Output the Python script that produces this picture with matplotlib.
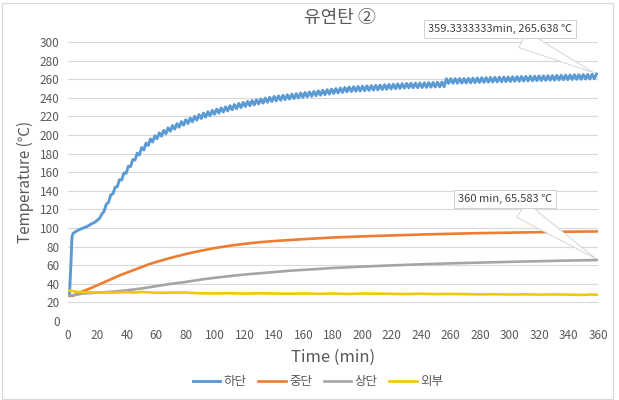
import numpy as np
import matplotlib
matplotlib.use("Agg")
import matplotlib.pyplot as plt
from matplotlib.patches import Rectangle

plt.rcParams['font.family'] = ['Noto Sans CJK KR', 'DejaVu Sans']

title = "유연탄 ②"
series_names = ["하단", "중단", "상단", "외부"]
colors = ["#5B9BD5", "#ED7D31", "#A5A5A5", "#F2C800"]

# 하단 (bottom) – smooth start, then dense zig-zag
bottom_t_start = [0, 1, 2, 2.67, 3.33, 5, 8, 12.7, 16, 18.5]
bottom_v_start = [28, 29, 62, 90, 94, 96, 98.5, 101.4, 104.5, 106.5]
bottom_t_zig = list(np.arange(20, 359.1, 1.5))
bottom_v_zig = [
    108.5, 110.5, 115, 118, 125.5, 127.5, 135.5, 136.8, 143.7, 144.5,
    152, 151.6, 159.2, 158.8, 166.4, 166, 173.6, 173, 180.5, 178.5,
    186.5, 183.9, 191.3, 188.7, 195.7, 192.5, 199.3, 196, 202.3, 198.7,
    205, 201.4, 207.7, 204.1, 210.2, 206.3, 212.3, 208.4, 214.4, 210.5,
    216.5, 212.4, 218.3, 214.2, 220.1, 216, 221.9, 217.75, 223.5, 219.25,
    225, 220.75, 226.5, 222.3, 227.9, 223.5, 229.1, 224.7, 230.3, 225.9,
    231.5, 227.1, 232.7, 228.3, 233.9, 229.5, 235.1, 230.65, 236.1, 231.5,
    237, 232.4, 237.9, 233.35, 238.8, 234.25, 239.7, 235.15, 240.6, 236.05,
    241.5, 236.8, 242.1, 237.4, 242.7, 238, 243.3, 238.6, 243.9, 239.2,
    244.5, 239.8, 245.1, 240.4, 245.7, 241, 246.3, 241.6, 246.9, 242.2,
    247.5, 242.8, 248.1, 243.4, 248.7, 244, 249.3, 244.6, 249.9, 245.2,
    250.5, 245.8, 251.1, 246.4, 251.6, 246.75, 251.9, 247.05, 252.2, 247.35,
    252.5, 247.65, 252.8, 247.95, 253.1, 248.25, 253.4, 248.55, 253.7, 248.85,
    254, 249.15, 254.3, 249.45, 254.6, 249.75, 254.9, 250.05, 255.2, 250.35,
    255.5, 250.6, 255.65, 250.7, 255.8, 250.9, 255.95, 251, 256.1, 251.2,
    256.3, 251.4, 256.5, 251.6, 256.7, 251.8, 256.9, 252, 260.5, 255.55,
    260.6, 255.65, 260.65, 255.7, 260.75, 255.8, 260.8, 255.85, 260.95, 256.05,
    261.15, 256.25, 261.35, 256.45, 261.55, 256.6, 261.7, 256.8, 261.85, 256.9,
    262, 257.1, 262.15, 257.2, 262.3, 257.4, 262.45, 257.5, 262.6, 257.7,
    262.75, 257.8, 262.9, 258, 263.05, 258.1, 263.2, 258.3, 263.35, 258.4,
    263.5, 258.6, 263.65, 258.7, 263.8, 258.9, 263.95, 259, 264.1, 259.2,
    264.25, 259.3, 264.4, 259.5, 264.55, 259.6, 264.7, 259.8, 264.85, 259.9,
    265, 260.1, 265.15, 260.2, 265.3, 260.4, 265.638,
]
bottom_t = bottom_t_start + bottom_t_zig
bottom_v = bottom_v_start + bottom_v_zig

# 중단 (middle)
mid_t = [0, 3, 6, 10, 15, 20, 25, 30, 35, 40, 45, 50, 55, 60, 70, 80, 90, 100,
         110, 120, 130, 140, 150, 160, 180, 200, 220, 240, 260, 280, 300, 320, 340, 360]
mid_v = [27, 27, 29, 32, 35, 38.5, 42, 45.5, 49, 52, 55, 58, 61, 63.5, 68, 72, 75.5, 78.5,
         81, 83, 84.7, 86, 87, 88, 89.8, 91, 92, 93, 93.8, 94.5, 95, 95.5, 96, 96.3]

# 상단 (top)
top_t = [0, 5, 10, 20, 30, 40, 50, 60, 70, 80, 90, 100, 110, 120, 130, 140, 150, 160,
         180, 200, 220, 240, 260, 280, 300, 320, 340, 360]
top_v = [27, 28, 29.5, 30.5, 31.5, 33, 35, 37.5, 40, 42, 44.5, 46.5, 48.3, 50, 51.3, 52.6, 54, 55,
         57, 58.5, 59.8, 61, 62, 62.8, 63.6, 64.3, 65, 65.583]

# 외부 (outside)
out_t = [0, 2, 5, 10, 20, 30, 40, 45, 50, 60, 70, 80, 90, 100, 110, 120, 130, 140, 150, 160,
         170, 180, 190, 200, 210, 220, 230, 240, 250, 260, 270, 280, 290, 300, 310, 320, 330,
         340, 350, 355, 360]
out_v = [33, 32.5, 31.5, 31, 30.8, 30.5, 31, 30.6, 31.2, 30.4, 30.5, 30.6, 29.8, 29.6, 29.9,
         29.4, 29.8, 29.5, 29.3, 29.6, 29.2, 29.5, 29.1, 29.5, 29.4, 29.2, 29.0, 29.3, 28.9, 29.1,
         28.9, 28.6, 28.8, 28.5, 28.7, 28.4, 28.6, 28.4, 28.0, 28.5, 28.2]

x_ticks = list(range(0, 361, 20))
y_ticks = list(range(0, 301, 20))

W, H = 619, 400
fig = plt.figure(figsize=(W / 100, H / 100), dpi=100)
ax = fig.add_axes([68 / W, 1 - 321 / H, (598 - 68) / W, (321 - 42) / H])

text_c = "#595959"
grid_c = "#D9D9D9"

for yt in y_ticks:
    ax.axhline(yt, color=grid_c, lw=0.8, zorder=0)

ax.plot(bottom_t, bottom_v, color=colors[0], lw=2.1, label=series_names[0], zorder=3)
ax.plot(mid_t, mid_v, color=colors[1], lw=1.9, label=series_names[1], zorder=3)
ax.plot(top_t, top_v, color=colors[2], lw=1.9, label=series_names[2], zorder=3)
ax.plot(out_t, out_v, color=colors[3], lw=1.9, label=series_names[3], zorder=3)

ax.set_xlim(0, 360)
ax.set_ylim(0, 300)
ax.set_xticks(x_ticks)
ax.set_yticks(y_ticks)
ax.tick_params(length=0, labelsize=8.5, colors=text_c, pad=6)
for s in ax.spines.values():
    s.set_visible(False)

ax.set_xlabel("Time (min)", fontsize=12, color=text_c, labelpad=5)
ax.set_ylabel("Temperature (℃)", fontsize=11, color=text_c, labelpad=4)
fig.text(340 / W, 1 - 18 / H, title, ha="center", va="center", fontsize=13, color=text_c)

leg = fig.legend(loc="center", bbox_to_anchor=(318 / W, 1 - 382 / H), ncol=4, frameon=False,
                 fontsize=9, handlelength=2.2, columnspacing=0.9, handletextpad=0.3,
                 labelcolor=text_c)

bbox_style = dict(boxstyle="square,pad=0.35", fc="white", ec="#D0D0D0", lw=0.7)
arrow_style = dict(arrowstyle="wedge,tail_width=1.6,shrink_factor=0.5", fc="white",
                   ec="#CFCFCF", lw=0.6)
ax.annotate("359.3333333min, 265.638 ℃", xy=(bottom_t[-1], bottom_v[-1]),
            xytext=(500 / W, 1 - 29 / H), textcoords="figure fraction",
            ha="center", va="center", fontsize=8, color="#404040",
            bbox=bbox_style, arrowprops=arrow_style, zorder=5, annotation_clip=False)
ax.annotate("360 min, 65.583 ℃", xy=(top_t[-1], top_v[-1]),
            xytext=(505 / W, 1 - 199 / H), textcoords="figure fraction",
            ha="center", va="center", fontsize=8, color="#404040",
            bbox=bbox_style, arrowprops=arrow_style, zorder=5, annotation_clip=False)

fig.patches.append(Rectangle((1.5 / W, 1.5 / H), (613 - 1.5) / W, (397 - 1.5) / H,
                             transform=fig.transFigure, fill=False, ec="#D9D9D9", lw=0.8))

fig.savefig("out.png", dpi=100)
